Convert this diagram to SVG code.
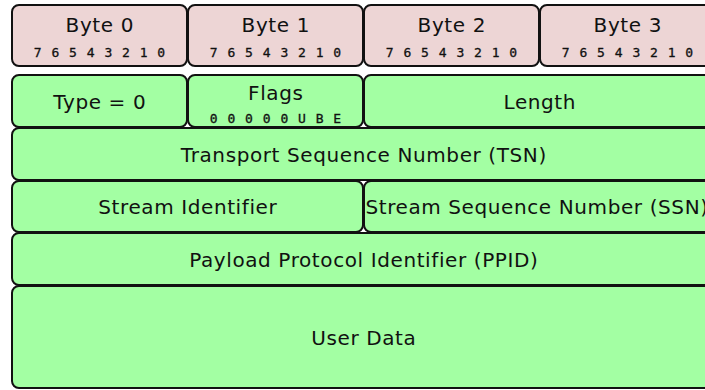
<svg xmlns="http://www.w3.org/2000/svg" width="705" height="390" viewBox="0 0 705 390">
  <style>
    .hdr { fill: #edd5d5; stroke: #111; stroke-width: 2; }
    .fld { fill: #a3ffa3; stroke: #111; stroke-width: 2; }
    .lbl { font-family: "DejaVu Sans", Verdana, sans-serif; font-size: 20px; letter-spacing: 0.6px; fill: #111; text-anchor: middle; }
    .bits { font-family: "DejaVu Sans Mono", monospace; font-size: 13px; fill: #111; text-anchor: middle; letter-spacing: 1px; stroke: #111; stroke-width: 0.3px; }
  </style>
  <rect width="705" height="390" fill="#ffffff"/>

  <!-- byte header row -->
  <g id="byte0">
    <rect class="hdr" x="12" y="5" width="175" height="61" rx="7"/>
    <text class="lbl" x="99.8" y="31.5">Byte 0</text>
    <text class="bits" x="100" y="57">7 6 5 4 3 2 1 0</text>
  </g>
  <g id="byte1">
    <rect class="hdr" x="188" y="5" width="175" height="61" rx="7"/>
    <text class="lbl" x="275.8" y="31.5">Byte 1</text>
    <text class="bits" x="276" y="57">7 6 5 4 3 2 1 0</text>
  </g>
  <g id="byte2">
    <rect class="hdr" x="364" y="5" width="175" height="61" rx="7"/>
    <text class="lbl" x="451.8" y="31.5">Byte 2</text>
    <text class="bits" x="452" y="57">7 6 5 4 3 2 1 0</text>
  </g>
  <g id="byte3">
    <rect class="hdr" x="540" y="5" width="175" height="61" rx="7"/>
    <text class="lbl" x="627.8" y="31.5">Byte 3</text>
    <text class="bits" x="628" y="57">7 6 5 4 3 2 1 0</text>
  </g>

  <!-- chunk fields -->
  <g id="type">
    <rect class="fld" x="12" y="75" width="175" height="52" rx="7"/>
    <text class="lbl" x="99.8" y="108.5">Type = 0</text>
  </g>
  <g id="flags">
    <rect class="fld" x="188" y="75" width="175" height="52" rx="7"/>
    <text class="lbl" x="275.8" y="100">Flags</text>
    <text class="bits" x="276" y="123">0 0 0 0 0 U B E</text>
  </g>
  <g id="length">
    <rect class="fld" x="364" y="75" width="351" height="52" rx="7"/>
    <text class="lbl" x="539.8" y="108.5">Length</text>
  </g>
  <g id="tsn">
    <rect class="fld" x="12" y="128" width="703" height="52" rx="7"/>
    <text class="lbl" x="363.8" y="162">Transport Sequence Number (TSN)</text>
  </g>
  <g id="stream-id">
    <rect class="fld" x="12" y="181" width="351" height="51" rx="7"/>
    <text class="lbl" x="187.8" y="214">Stream Identifier</text>
  </g>
  <g id="ssn">
    <rect class="fld" x="364" y="181" width="351" height="51" rx="7"/>
    <text class="lbl" x="537" y="214">Stream Sequence Number (SSN)</text>
  </g>
  <g id="ppid">
    <rect class="fld" x="12" y="233" width="703" height="52" rx="7"/>
    <text class="lbl" x="363.8" y="266.5">Payload Protocol Identifier (PPID)</text>
  </g>
  <g id="user-data">
    <rect class="fld" x="12" y="286" width="703" height="102" rx="7"/>
    <text class="lbl" x="363.8" y="345">User Data</text>
  </g>

  <g id="connectors"/>
</svg>
